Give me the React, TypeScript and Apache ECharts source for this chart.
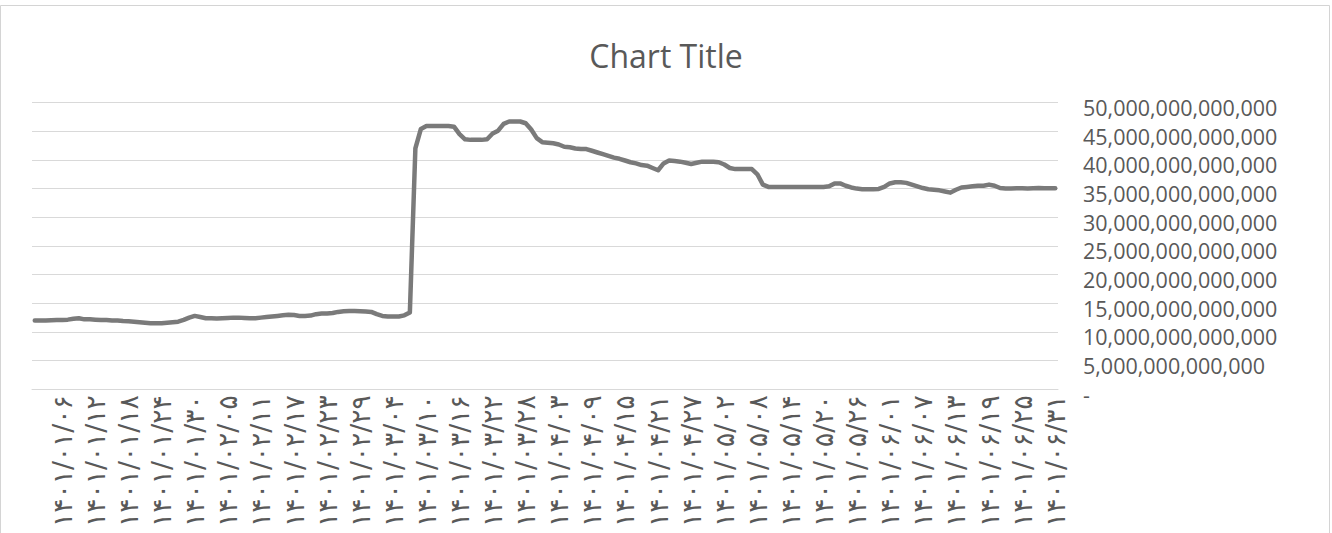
import React, { useEffect, useRef } from "react";
import * as echarts from "echarts";

// Persian (Jalali) months 1401/01 .. 1401/06, 31 days each
const monthDays: number[] = [31, 31, 31, 31, 31, 31];
const year = "1401";

// Daily values in trillions (1401/01/01 .. 1401/06/31)
const valuesTrillion: number[] = [
  12.0, 12.0, 12.0, 12.05, 12.1, 12.1, 12.15, 12.3, 12.4, 12.2,
  12.2, 12.15, 12.1, 12.1, 12.0, 12.0, 11.9, 11.85, 11.8, 11.7,
  11.6, 11.5, 11.5, 11.5, 11.6, 11.7, 11.8, 12.1, 12.5, 12.8,
  12.6, 12.4, 12.4, 12.35, 12.4, 12.45, 12.5, 12.5, 12.45, 12.4,
  12.4, 12.5, 12.6, 12.7, 12.8, 12.9, 13.0, 12.95, 12.8, 12.8,
  12.85, 13.1, 13.2, 13.2, 13.3, 13.5, 13.6, 13.65, 13.65, 13.6,
  13.55, 13.5, 13.1, 12.8, 12.7, 12.7, 12.7, 12.9, 13.4, 42.0,
  45.4, 45.9, 45.9, 45.9, 45.9, 45.9, 45.8, 44.5, 43.6, 43.5,
  43.5, 43.5, 43.6, 44.6, 45.1, 46.3, 46.7, 46.7, 46.7, 46.4,
  45.3, 43.8, 43.1, 43.0, 42.9, 42.7, 42.3, 42.2, 42.0, 41.9,
  41.9, 41.6, 41.3, 41.0, 40.7, 40.4, 40.2, 39.9, 39.6, 39.4,
  39.1, 39.0, 38.6, 38.2, 39.4, 39.9, 39.8, 39.7, 39.5, 39.3,
  39.5, 39.7, 39.7, 39.7, 39.6, 39.2, 38.6, 38.4, 38.4, 38.4,
  38.4, 37.5, 35.7, 35.3, 35.3, 35.3, 35.3, 35.3, 35.3, 35.3,
  35.3, 35.3, 35.3, 35.3, 35.4, 35.9, 35.9, 35.5, 35.2, 35.0,
  34.9, 34.9, 34.9, 34.95, 35.3, 35.9, 36.1, 36.1, 36.0, 35.7,
  35.4, 35.1, 34.9, 34.8, 34.7, 34.5, 34.3, 34.8, 35.2, 35.3,
  35.4, 35.5, 35.5, 35.7, 35.5, 35.1, 35.0, 35.0, 35.05, 35.05,
  35.0, 35.05, 35.1, 35.05, 35.05, 35.05,
];

const yTickMax = 50e12;
const yTickStep = 5e12;

const persianDigits = "۰۱۲۳۴۵۶۷۸۹";
const toPersian = (s: string) => s.replace(/[0-9]/g, (d) => persianDigits[Number(d)]);
const pad2 = (n: number) => (n < 10 ? "0" + n : String(n));

const categories: string[] = [];
monthDays.forEach((days, m) => {
  for (let d = 1; d <= days; d++) {
    categories.push(toPersian(`${year}/${pad2(m + 1)}/${pad2(d)}`));
  }
});

const seriesValues = valuesTrillion.map((v) => v * 1e12);

const formatNum = (v: number) => {
  if (v === 0) return "-";
  return Math.round(v).toString().replace(/\B(?=(\d{3})+(?!\d))/g, ",");
};

export default function App() {
  const ref = useRef<HTMLDivElement>(null);
  useEffect(() => {
    if (!ref.current) return;
    const chart = echarts.init(ref.current, null, { renderer: "svg" });
    chart.setOption({
      animation: false,
      backgroundColor: "#ffffff",
      title: {
        text: "Chart Title",
        left: "center",
        top: 34,
        textStyle: {
          fontFamily: "Open Sans",
          fontSize: 32,
          fontWeight: "normal",
          color: "#595959",
        },
      },
      grid: [
        { left: 32, right: 274, top: 102.6, bottom: 143.7, containLabel: false },
        { left: 32, right: 274, top: 107.6, bottom: 138.7, containLabel: false },
      ],
      xAxis: [
        {
          type: "category",
          gridIndex: 0,
          data: categories,
          boundaryGap: true,
          axisLine: { show: true, lineStyle: { color: "#d9d9d9", width: 1 } },
          axisTick: { show: false },
          axisLabel: {
            rotate: 90,
            interval: (index: number) => index >= 5 && (index - 5) % 6 === 0,
            fontFamily: "DejaVu Sans",
            fontSize: 26.5,
            color: "#595959",
            margin: 6,
          },
          splitLine: { show: false },
        },
        {
          type: "category",
          gridIndex: 1,
          data: categories,
          show: false,
        },
      ],
      yAxis: [
        {
          type: "value",
          gridIndex: 0,
          position: "right",
          min: 0,
          max: yTickMax,
          interval: yTickStep,
          axisLine: { show: false },
          axisTick: { show: false },
          axisLabel: { show: false },
          splitLine: { show: true, lineStyle: { color: "#d9d9d9", width: 1 } },
        },
        {
          type: "value",
          gridIndex: 1,
          position: "right",
          min: 0,
          max: yTickMax,
          interval: yTickStep,
          axisLine: { show: false },
          axisTick: { show: false },
          splitLine: { show: false },
          axisLabel: {
            formatter: (v: number) => formatNum(v),
            fontFamily: "Open Sans",
            fontSize: 21.5,
            color: "#595959",
            align: "left",
            margin: 25,
          },
        },
      ],
      graphic: [
        {
          type: "rect",
          shape: { x: 0.5, y: 5.5, width: 1329, height: 540 },
          style: { fill: "none", stroke: "#d4d4d4", lineWidth: 1 },
          silent: true,
        },
      ],
      series: [
        {
          type: "line",
          xAxisIndex: 0,
          yAxisIndex: 0,
          data: seriesValues,
          symbol: "none",
          smooth: false,
          lineStyle: { color: "#7a7a7a", width: 4.5, cap: "round", join: "round" },
        },
      ],
    });
    return () => chart.dispose();
  }, []);
  return (
    <div
      ref={ref}
      style={{ position: "fixed", left: 0, top: 0, width: 1332, height: 533 }}
    />
  );
}
